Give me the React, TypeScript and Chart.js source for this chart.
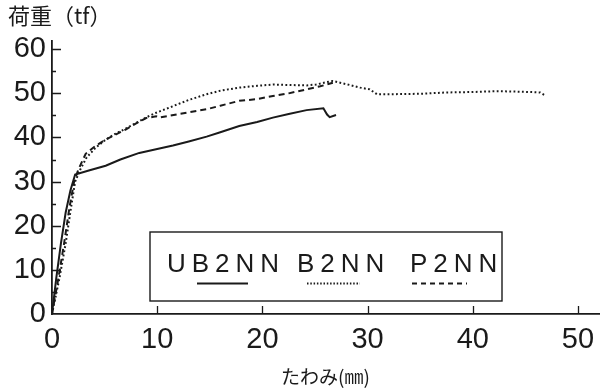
import React, { useEffect, useRef } from "react";
import { Chart, registerables } from "chart.js";

Chart.register(...registerables);

// ---- data ----
const seriesLabels = ["UB2NN", "B2NN", "P2NN"];

const xTickValues = [0, 10, 20, 30, 40, 50];
const yTickValues = [0, 10, 20, 30, 40, 50, 60];
const yMinorTickValues = [5, 15, 25, 35, 45, 55];

const ub2nnX = [0, 0.4, 0.85, 1.3, 1.75, 2.2, 3.5, 5.1, 6.5, 8.3, 10, 11.5, 13, 14.7, 16, 17.8, 19.5, 21, 22.5, 24.2, 25.8, 26.15, 26.4, 27.0];
const ub2nnY = [0, 8, 16, 23, 28, 31.6, 32.5, 33.6, 35, 36.5, 37.4, 38.2, 39.1, 40.2, 41.2, 42.6, 43.5, 44.5, 45.3, 46.2, 46.6, 45.2, 44.6, 45.1];

const b2nnX = [0, 0.7, 1.3, 1.8, 2.2, 2.7, 3.3, 4.2, 5.1, 6.0, 7.0, 8.0, 9.0, 9.9, 11.5, 13, 14.7, 16, 17.8, 19.5, 21, 22.5, 24.2, 25.1, 26.0, 26.7, 27.4, 28.3, 29.3, 30.2, 30.9, 32, 35, 37.5, 40, 42.3, 44, 45.5, 46.4, 46.9];
const b2nnY = [0, 8, 16, 24, 30, 32.8, 35.5, 37.8, 39.5, 40.8, 42.0, 43.3, 44.6, 45.6, 47.1, 48.5, 49.8, 50.6, 51.3, 51.7, 52.0, 51.9, 51.8, 52.0, 52.5, 52.8, 52.4, 51.9, 51.3, 50.9, 49.8, 49.8, 49.9, 50.2, 50.3, 50.5, 50.4, 50.3, 50.2, 49.5];

const p2nnX = [0, 0.6, 1.15, 1.65, 2.1, 2.5, 3.2, 4.2, 5.1, 6.0, 7.0, 8.0, 8.95, 9.9, 10.2, 12, 14.7, 16, 17.8, 19.5, 21, 22.5, 24.2, 25.5, 26.7];
const p2nnY = [0, 8, 16, 24, 30, 32.7, 36.3, 38.2, 39.5, 40.6, 41.8, 43.2, 44.4, 44.8, 44.5, 45.3, 46.4, 47.2, 48.3, 48.7, 49.4, 50.0, 50.9, 51.6, 52.4];

const INK = "#1a1a1a";
const LATIN = "'Liberation Sans', Arial, sans-serif";
const CJK = "'Noto Sans CJK JP', sans-serif";

const toPoints = (xs: number[], ys: number[]) => xs.map((x, i) => ({ x, y: ys[i] }));

const inwardTicks = {
  id: "inwardTicks",
  afterDatasetsDraw(chart: any) {
    const { ctx } = chart;
    const x = chart.scales.x;
    const y = chart.scales.y;
    ctx.save();
    ctx.strokeStyle = INK;
    ctx.lineWidth = 1.3;
    ctx.beginPath();
    yTickValues.forEach((v) => {
      if (v === 0) return;
      const py = Math.round(y.getPixelForValue(v)) + 0.5;
      ctx.moveTo(x.left, py);
      ctx.lineTo(x.left + 9, py);
    });
    yMinorTickValues.forEach((v) => {
      const py = Math.round(y.getPixelForValue(v)) + 0.5;
      ctx.moveTo(x.left, py);
      ctx.lineTo(x.left + 4, py);
    });
    xTickValues.forEach((v) => {
      if (v === 0) return;
      const px = Math.round(x.getPixelForValue(v)) + 0.5;
      ctx.moveTo(px, y.bottom);
      ctx.lineTo(px, y.bottom - 8);
    });
    ctx.stroke();
    ctx.restore();
  },
};

const boxLegend = {
  id: "boxLegend",
  afterDatasetsDraw(chart: any, _args: any, opts: any) {
    const { ctx } = chart;
    ctx.save();
    ctx.fillStyle = "#fff";
    ctx.fillRect(opts.left, opts.top, opts.width, opts.height);
    ctx.strokeStyle = INK;
    ctx.lineWidth = 1.4;
    ctx.strokeRect(opts.left, opts.top, opts.width, opts.height);
    chart.data.datasets.forEach((ds: any, i: number) => {
      const item = opts.items[i];
      ctx.fillStyle = INK;
      ctx.font = `26px ${LATIN}`;
      (ctx as any).letterSpacing = opts.letterSpacing;
      ctx.textBaseline = "alphabetic";
      ctx.textAlign = "left";
      ctx.fillText(ds.label, item.textX, opts.textY);
      ctx.beginPath();
      ctx.setLineDash(item.dash);
      ctx.lineWidth = ds.borderWidth;
      ctx.strokeStyle = ds.borderColor;
      ctx.moveTo(item.x0, opts.sampleY);
      ctx.lineTo(item.x1, opts.sampleY);
      ctx.stroke();
    });
    ctx.restore();
  },
};

export default function App() {
  const ref = useRef<HTMLCanvasElement | null>(null);

  useEffect(() => {
    if (!ref.current) return;
    const chart = new Chart(ref.current, {
      type: "line",
      data: {
        datasets: [
          {
            label: seriesLabels[0],
            data: toPoints(ub2nnX, ub2nnY),
            borderColor: INK,
            borderWidth: 2,
            pointRadius: 0,
            tension: 0,
          },
          {
            label: seriesLabels[1],
            data: toPoints(b2nnX, b2nnY),
            borderColor: INK,
            borderWidth: 2,
            borderDash: [1.8, 2.4],
            pointRadius: 0,
            tension: 0,
          },
          {
            label: seriesLabels[2],
            data: toPoints(p2nnX, p2nnY),
            borderColor: INK,
            borderWidth: 2,
            borderDash: [6, 4],
            pointRadius: 0,
            tension: 0,
          },
        ],
      },
      options: {
        animation: false,
        responsive: false,
        maintainAspectRatio: false,
        layout: { padding: { left: 8, right: 5, top: 0, bottom: 0 } },
        plugins: {
          legend: { display: false },
          tooltip: { enabled: false },
          title: {
            display: true,
            text: "荷重（tf）",
            align: "start",
            color: INK,
            font: { family: CJK, size: 22, weight: "normal", lineHeight: 1.2 },
            padding: { top: 2, bottom: 12 },
          },
          boxLegend: {
            left: 150,
            top: 232,
            width: 352,
            height: 69,
            textY: 272,
            sampleY: 283.5,
            letterSpacing: "6px",
            items: [
              { textX: 167, x0: 197, x1: 248, dash: [] },
              { textX: 297, x0: 307, x1: 360, dash: [1.5, 1.8] },
              { textX: 410, x0: 412, x1: 467, dash: [5, 4] },
            ],
          },
        } as any,
        scales: {
          x: {
            type: "linear",
            min: 0,
            max: 52,
            afterFit: (s: any) => {
              s.height = 74;
            },
            grid: { display: false, drawTicks: false },
            border: { display: true, color: INK, width: 1.8 },
            ticks: {
              stepSize: 10,
              includeBounds: false,
              padding: 9,
              color: INK,
              font: { family: LATIN, size: 29 },
              maxRotation: 0,
            },
            title: {
              display: true,
              text: "たわみ(㎜)",
              color: INK,
              font: { family: CJK, size: 19 },
              padding: { top: 0, bottom: 0 },
            },
          },
          y: {
            type: "linear",
            min: 0,
            max: 62,
            afterFit: (s: any) => {
              s.width = 44;
            },
            grid: { display: false, drawTicks: false },
            border: { display: true, color: INK, width: 1.8 },
            ticks: {
              stepSize: 10,
              includeBounds: false,
              padding: 6,
              color: INK,
              font: { family: LATIN, size: 29 },
            },
          },
        },
      },
      plugins: [inwardTicks, boxLegend],
    } as any);
    return () => chart.destroy();
  }, []);

  return (
    <div style={{ position: "fixed", left: 0, top: 0, width: 604, height: 388, background: "#fff" }}>
      <canvas ref={ref} width={604} height={388} style={{ width: 604, height: 388, display: "block" }} />
    </div>
  );
}
